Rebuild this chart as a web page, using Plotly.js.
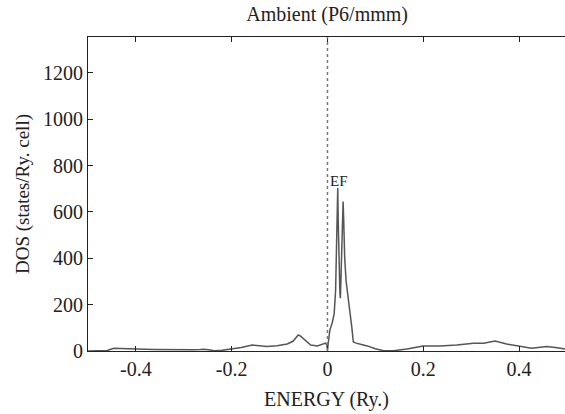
<!DOCTYPE html>
<html>
<head>
<meta charset="utf-8">
<script src="https://cdn.plot.ly/plotly-3.0.1.min.js"></script>
<style>
html,body{margin:0;padding:0;background:#fff;}
#chart{width:565px;height:414px;}
#chart svg text{font-family:"Liberation Serif" !important;}
</style>
</head>
<body>
<div id="chart"></div>
<script>
const energy = [-0.5, -0.475, -0.46, -0.446, -0.43, -0.4, -0.362, -0.33, -0.306, -0.28, -0.265, -0.258, -0.245, -0.237, -0.22, -0.2, -0.18, -0.157, -0.14, -0.126, -0.105, -0.084, -0.072, -0.065, -0.061, -0.056, -0.05, -0.042, -0.035, -0.021, -0.01, -0.004, -0.001, 0.0, 0.002, 0.005, 0.0098, 0.014, 0.017, 0.019, 0.0205, 0.0215, 0.0225, 0.024, 0.026, 0.027, 0.028, 0.030, 0.0315, 0.0327, 0.034, 0.036, 0.039, 0.043, 0.048, 0.051, 0.054, 0.06, 0.075, 0.083, 0.1, 0.117, 0.138, 0.15, 0.166, 0.2, 0.235, 0.27, 0.305, 0.326, 0.35, 0.374, 0.402, 0.426, 0.44, 0.458, 0.48, 0.496];
const dos = [0, 0, 2, 12, 10, 9, 7, 5, 4, 5, 6, 8, 4, 1, 3, 8, 15, 26, 22, 19, 23, 30, 42, 60, 69, 64, 52, 36, 26, 22, 28, 34, 25, 3, 40, 90, 121, 160, 260, 450, 640, 703, 560, 380, 250, 228, 300, 500, 620, 645, 560, 400, 300, 240, 164, 100, 39, 34, 26, 22, 10, 1, 1, 4, 9, 22, 22, 26, 33, 33, 43, 30, 22, 12, 15, 19, 14, 9];
const xTickVals = [-0.4, -0.2, 0, 0.2, 0.4];
const xTickText = ["-0.4", "-0.2", "0", "0.2", "0.4"];
const yTickVals = [0, 200, 400, 600, 800, 1000, 1200];
const fermiEnergy = 0;

const FAM = "Liberation Serif";
const ink = '#222222';
const trace = {
  x: energy, y: dos, type: 'scatter', mode: 'lines',
  line: {color: '#555555', width: 1.5}, hoverinfo: 'skip'
};
const layout = {
  width: 565, height: 414,
  margin: {l: 88, r: 0, t: 37, b: 63},
  paper_bgcolor: '#ffffff', plot_bgcolor: '#ffffff',
  showlegend: false,
  font: {family: FAM, size: 20, color: ink},
  title: {text: 'Ambient (P6/mmm)', font: {family: FAM, size: 20, color: ink},
          x: 0.579, xanchor: 'center', xref: 'container', y: 1 - 14/414, yanchor: 'middle', yref: 'container'},
  xaxis: {
    range: [-0.5, 0.496], tickvals: xTickVals, ticktext: xTickText,
    ticks: 'inside', ticklen: 5, tickcolor: ink, tickwidth: 1,
    showline: true, linecolor: ink, linewidth: 1, mirror: 'allticks',
    showgrid: false, zeroline: false,
    tickfont: {family: FAM, size: 20, color: ink},
    title: {text: 'ENERGY (Ry.)', font: {family: FAM, size: 20, color: ink}, standoff: 12}
  },
  yaxis: {
    range: [0, 1355], tickvals: yTickVals,
    ticks: 'inside', ticklen: 5, tickcolor: ink, tickwidth: 1,
    showline: true, linecolor: ink, linewidth: 1, mirror: false,
    showgrid: false, zeroline: false,
    tickfont: {family: FAM, size: 20, color: ink},
    title: {text: 'DOS (states/Ry. cell)', font: {family: FAM, size: 19, color: ink}, standoff: 8}
  },
  shapes: [{type: 'line', xref: 'x', yref: 'paper', x0: fermiEnergy, x1: fermiEnergy, y0: 0, y1: 1,
            line: {color: '#777777', width: 1.5, dash: 'dot'}}],
  annotations: [{text: 'EF', x: 0.024, y: 735, xref: 'x', yref: 'y', showarrow: false,
                 font: {family: FAM, size: 15, color: ink}}]
};
Plotly.newPlot('chart', [trace], layout, {displayModeBar: false, staticPlot: true}).then(function (gd) {
  gd.querySelectorAll('svg text').forEach(function (t) { t.style.fontFamily = '"Liberation Serif"'; });
});
</script>
</body>
</html>
